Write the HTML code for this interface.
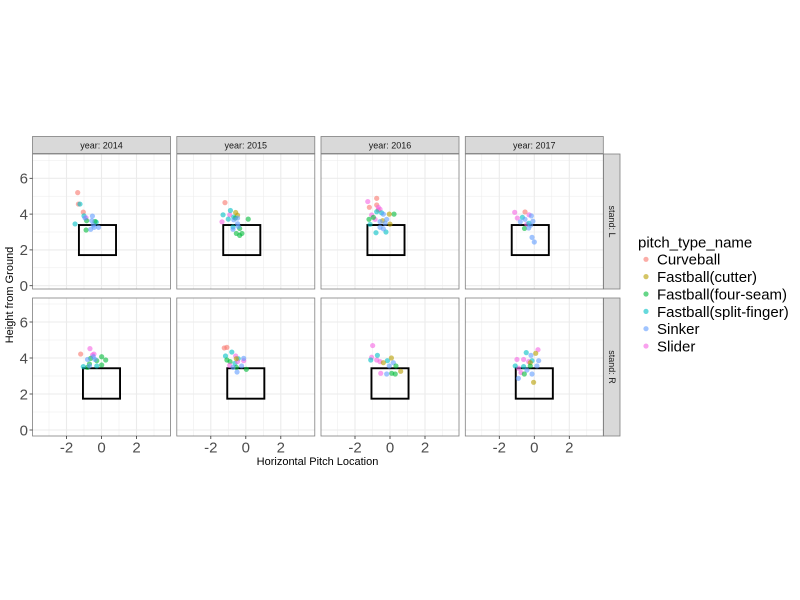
<!DOCTYPE html>
<html><head><meta charset="utf-8"><style>
html,body{margin:0;padding:0;background:#fff;}
svg{display:block;font-family:"Liberation Sans",Arial,sans-serif;}
</style></head><body>
<svg id="c" width="800" height="600" viewBox="0 0 800 600"></svg>
<script>
const years = ['2014','2015','2016','2017'];
const stands = ['L','R'];
const pitchTypes = ['Curveball','Fastball(cutter)','Fastball(four-seam)','Fastball(split-finger)','Sinker','Slider'];
const xTicks = [-2,0,2];
const yTicks = [0,2,4,6];
const zoneL = [-1.29,0.83,1.71,3.39];
const zoneR = [-1.06,1.06,1.74,3.43];
// points: [stand, year, pitchTypeIndex, x, y]
const points = [
['L','2014',0,-1.36,5.2],['L','2014',0,-1.32,4.56],['L','2014',0,-1.04,4.11],
['L','2014',3,-1.23,4.56],['L','2014',3,-1.51,3.45],['L','2014',3,-1.0,3.9],['L','2014',3,-0.3,3.55],
['L','2014',5,-0.88,3.8],
['L','2014',2,-0.88,3.11],['L','2014',2,-0.85,3.63],['L','2014',2,-0.37,3.59],
['L','2014',4,-0.52,3.89],['L','2014',4,-0.56,3.63],['L','2014',4,-0.62,3.15],['L','2014',4,-0.42,3.26],['L','2014',4,-0.17,3.26],['L','2014',4,-0.47,3.39],['L','2014',4,-0.94,3.78],
['L','2015',0,-1.19,4.64],
['L','2015',5,-1.36,3.57],['L','2015',5,-0.92,3.96],
['L','2015',3,-1.3,3.96],['L','2015',3,-0.88,4.2],['L','2015',3,-1.0,3.72],['L','2015',3,-0.69,3.83],['L','2015',3,-0.73,3.28],
['L','2015',1,-0.58,4.09],['L','2015',1,-0.47,3.94],
['L','2015',2,-0.54,2.92],['L','2015',2,-0.35,2.81],['L','2015',2,-0.22,2.92],['L','2015',2,-0.35,3.2],['L','2015',2,0.14,3.72],['L','2015',2,-0.6,3.78],
['L','2015',4,-0.69,3.68],['L','2015',4,-0.47,3.46],['L','2015',4,-0.73,3.15],['L','2015',4,-0.47,3.78],['L','2015',4,-0.43,3.31],
['L','2016',0,-0.76,4.88],['L','2016',0,-1.18,4.38],['L','2016',0,-0.76,4.51],['L','2016',0,-0.67,4.23],
['L','2016',5,-1.27,4.7],['L','2016',5,-0.67,4.38],['L','2016',5,-1.05,3.95],['L','2016',5,-0.57,4.27],['L','2016',5,-0.85,3.71],
['L','2016',2,-1.2,3.71],['L','2016',2,0.23,4.0],['L','2016',2,-0.95,3.82],
['L','2016',1,-0.04,4.0],['L','2016',1,0.0,3.44],['L','2016',1,-0.42,3.63],
['L','2016',3,-1.14,3.43],['L','2016',3,-0.8,2.96],['L','2016',3,-0.23,3.0],['L','2016',3,-0.76,4.13],['L','2016',3,-0.48,4.07],
['L','2016',4,-0.38,4.0],['L','2016',4,-0.19,3.71],['L','2016',4,-0.57,3.26],['L','2016',4,-0.38,3.18],['L','2016',4,-0.57,3.58],['L','2016',4,-0.28,3.49],
['L','2017',5,-1.12,4.1],['L','2017',5,-0.97,3.78],['L','2017',5,-0.3,3.96],['L','2017',5,-0.43,3.43],
['L','2017',0,-0.53,4.12],
['L','2017',3,-0.68,3.82],['L','2017',3,-0.31,3.49],
['L','2017',2,-0.56,3.2],
['L','2017',4,-0.17,3.9],['L','2017',4,-0.53,3.71],['L','2017',4,-0.08,3.6],['L','2017',4,-0.21,3.38],['L','2017',4,-0.32,3.22],['L','2017',4,-0.13,2.7],['L','2017',4,0.0,2.44],['L','2017',4,-0.8,3.57],
['R','2014',0,-1.19,4.22],
['R','2014',5,-0.66,4.52],['R','2014',5,-0.51,4.17],['R','2014',5,-0.43,4.22],
['R','2014',2,-0.69,3.67],['R','2014',2,-0.62,3.98],['R','2014',2,-0.27,3.85],['R','2014',2,0.01,4.07],['R','2014',2,0.24,3.89],['R','2014',2,0.01,3.61],['R','2014',2,-0.8,3.48],
['R','2014',3,-1.04,3.52],['R','2014',3,-0.27,3.56],
['R','2014',4,-0.8,3.92],['R','2014',4,-0.37,3.92],['R','2014',4,-0.47,4.07],['R','2014',4,-0.69,3.56],
['R','2015',0,-1.23,4.56],['R','2015',0,-1.08,4.59],
['R','2015',3,-0.8,4.33],['R','2015',3,-1.16,4.11],['R','2015',3,-0.62,3.7],['R','2015',3,-0.43,3.96],
['R','2015',2,-1.08,3.89],['R','2015',2,-0.54,3.48],['R','2015',2,0.03,3.37],['R','2015',2,-0.9,3.8],
['R','2015',5,-0.92,3.59],['R','2015',5,-0.58,4.11],['R','2015',5,-0.12,3.85],['R','2015',5,-0.47,3.8],
['R','2015',4,-0.5,3.22],['R','2015',4,-0.24,3.56],['R','2015',4,-0.12,3.98],['R','2015',4,-0.73,3.48],
['R','2015',1,-0.54,3.96],
['R','2016',5,-0.99,4.69],['R','2016',5,-1.05,4.04],['R','2016',5,-0.76,3.89],['R','2016',5,-0.53,3.15],['R','2016',5,-0.57,3.8],
['R','2016',3,-1.1,3.89],['R','2016',3,-0.72,4.15],['R','2016',3,-0.15,3.85],
['R','2016',1,-0.38,3.74],['R','2016',1,0.08,4.0],['R','2016',1,0.61,3.26],
['R','2016',4,-0.19,3.11],['R','2016',4,0.19,3.74],['R','2016',4,-0.04,3.56],
['R','2016',2,0.1,3.15],['R','2016',2,0.3,3.11],['R','2016',2,0.34,3.56],
['R','2017',5,-0.99,3.92],['R','2017',5,-0.61,3.92],['R','2017',5,0.21,4.46],['R','2017',5,-0.76,3.19],['R','2017',5,-0.9,3.43],['R','2017',5,-0.32,3.8],
['R','2017',3,-1.09,3.56],['R','2017',3,-0.46,4.3],['R','2017',3,-0.13,3.85],['R','2017',3,-0.61,3.52],
['R','2017',1,0.08,4.26],['R','2017',1,-0.04,2.65],['R','2017',1,-0.23,3.74],
['R','2017',4,-0.91,2.87],['R','2017',4,0.25,3.85],['R','2017',4,-0.13,3.11],['R','2017',4,-0.19,4.15],['R','2017',4,-0.42,3.33],['R','2017',4,0.15,3.56],
['R','2017',2,-0.57,3.11],['R','2017',2,-0.23,3.56]
];
const colors = ['#F8766D','#B79F00','#00BA38','#00BFC4','#619CFF','#F564E3'];

const NS='http://www.w3.org/2000/svg';
const svg=document.getElementById('c');
function mk(tag,attrs,parent){const e=document.createElementNS(NS,tag);for(const k in attrs)e.setAttribute(k,attrs[k]);(parent||svg).appendChild(e);return e;}
const colLeft=[32.5,176.8,321,465.3], pw=138;
const rows={L:{top:154,bot:289,y0:285.7,ky:17.9},R:{top:298,bot:436,y0:430,ky:18}};
const kx=17.5;
function sx(c,v){return colLeft[c]+69+v*kx;}
function sy(s,v){return rows[s].y0-v*rows[s].ky;}

years.forEach((yr,c)=>{
  const st=mk('rect',{x:colLeft[c],y:136.5,width:pw,height:17,fill:'#d9d9d9',stroke:'#7f7f7f','stroke-width':0.8});
  
  
  const t=mk('text',{x:colLeft[c]+pw/2,y:148.5,'text-anchor':'middle','font-size':9,fill:'#1a1a1a'});
  t.textContent='year: '+yr;
  
  
});

stands.forEach(s=>{
  const R=rows[s];
  const rs=mk('rect',{x:603.5,y:R.top,width:16.5,height:R.bot-R.top,fill:'#d9d9d9',stroke:'#7f7f7f','stroke-width':0.8});
  
  
  const cy=(R.top+R.bot)/2;
  const rt=mk('text',{x:611.8,y:cy,'text-anchor':'middle','font-size':9,fill:'#1a1a1a',transform:`rotate(90 611.8 ${cy}) translate(0 3)`});
  rt.textContent='stand: '+s;
  
  
  years.forEach((yr,c)=>{
    const g=mk('g',{});
    
    
    mk('rect',{x:colLeft[c],y:R.top,width:pw,height:R.bot-R.top,fill:'#fff'},g);
    for(let v=-3;v<=3;v++){const x=sx(c,v);mk('line',{x1:x,x2:x,y1:R.top,y2:R.bot,stroke:'#ebebeb','stroke-width':v%2===0?1.1:0.5},g);}
    for(let v=-1;v<=7;v++){const y=sy(s,v);if(y<R.top||y>R.bot)continue;mk('line',{x1:colLeft[c],x2:colLeft[c]+pw,y1:y,y2:y,stroke:'#ebebeb','stroke-width':v%2===0?1.1:0.5},g);}
    const z=s==='L'?zoneL:zoneR;
    const zr=mk('rect',{x:sx(c,z[0]),y:sy(s,z[3]),width:sx(c,z[1])-sx(c,z[0]),height:sy(s,z[2])-sy(s,z[3]),fill:'none',stroke:'#000','stroke-width':1.9},g);
    
    
    points.filter(p=>p[0]===s&&p[1]===yr).forEach(p=>{
      const d=mk('circle',{cx:sx(c,p[3]),cy:sy(s,p[4]),r:2.6,fill:colors[p[2]],'fill-opacity':0.6},g);
      
      
    });
    mk('rect',{x:colLeft[c],y:R.top,width:pw,height:R.bot-R.top,fill:'none',stroke:'#7f7f7f','stroke-width':0.8},g);
  });
  yTicks.forEach(v=>{
    const y=sy(s,v);
    mk('line',{x1:29.5,x2:32.5,y1:y,y2:y,stroke:'#333','stroke-width':0.8});
    const t=mk('text',{x:28,y:y+5.3,'text-anchor':'end','font-size':15,fill:'#4d4d4d'});
    t.textContent=v;
    
    
  });
});
years.forEach((yr,c)=>{
  xTicks.forEach(v=>{
    const x=sx(c,v);
    mk('line',{x1:x,x2:x,y1:436,y2:439,stroke:'#333','stroke-width':0.8});
    const t=mk('text',{x:x,y:452.5,'text-anchor':'middle','font-size':15,fill:'#4d4d4d'});
    t.textContent=v;
    
    
  });
});
const xt=mk('text',{x:317.5,y:465,'text-anchor':'middle','font-size':11,fill:'#000'});
xt.textContent='Horizontal Pitch Location';


const yt=mk('text',{x:13,y:295,'text-anchor':'middle','font-size':11,fill:'#000',transform:'rotate(-90 13 295)'});
yt.textContent='Height from Ground';



const lt=mk('text',{x:638,y:247.5,'font-size':15,fill:'#000'});
lt.textContent='pitch_type_name';


pitchTypes.forEach((p,i)=>{
  const y=259.3+i*17.35;
  const g=mk('g',{});
  
  
  mk('circle',{cx:646,cy:y,r:2.6,fill:colors[i],'fill-opacity':0.6},g);
  const t=mk('text',{x:657,y:y+5.4,'font-size':15,fill:'#000'},g);
  t.textContent=p;
});
</script>
</body></html>
